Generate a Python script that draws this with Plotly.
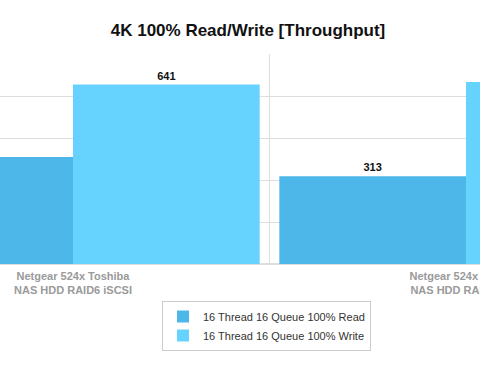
import plotly.graph_objects as go

categories = ["Netgear 524x Toshiba<br>NAS HDD RAID6 iSCSI", "Netgear 524x Toshiba<br>NAS HDD RAID6 NFS"]
read_values = [382, 313]
write_values = [641, 650]
series_names = ["16 Thread 16 Queue 100% Read", "16 Thread 16 Queue 100% Write"]

READ_COLOR = "#4db7e9"
WRITE_COLOR = "#66d3fe"

fig = go.Figure()
fig.add_trace(go.Bar(
    x=categories, y=read_values, name=series_names[0],
    marker=dict(color=READ_COLOR, line=dict(width=0)),
    text=[str(v) for v in read_values], textposition="outside",
    textfont=dict(family="Liberation Sans", size=11, color="#111", weight="bold"),
    cliponaxis=False,
))
fig.add_trace(go.Bar(
    x=categories, y=write_values, name=series_names[1],
    marker=dict(color=WRITE_COLOR, line=dict(width=0)),
    text=[str(v) for v in write_values], textposition="outside",
    textfont=dict(family="Liberation Sans", size=11, color="#111", weight="bold"),
    cliponaxis=False,
))

px_per_cat = 393.0
center0 = 73.0
fig.update_layout(
    width=480, height=370,
    margin=dict(l=0, r=0, t=54, b=106, pad=0, autoexpand=False),
    paper_bgcolor="white", plot_bgcolor="white",
    barmode="group", bargap=0.05, bargroupgap=0,
    title=dict(text="<b>4K 100% Read/Write [Throughput]</b>", x=248/480, xanchor="center",
               y=1 - 30/370, yanchor="middle",
               font=dict(family="Liberation Sans", size=17, color="#111")),
    xaxis=dict(
        type="category", automargin=False,
        range=[-center0 / px_per_cat, (480 - center0) / px_per_cat],
        tickson="boundaries", showgrid=True, gridcolor="#dddddd", gridwidth=1,
        ticks="", showline=False, zeroline=False, ticklabelstandoff=4,
        tickfont=dict(family="Liberation Sans", size=11, color="#9a9a9a", weight="bold"),
    ),
    yaxis=dict(
        range=[0, 750], dtick=150, showticklabels=False, automargin=False,
        showgrid=True, gridcolor="#dddddd", gridwidth=1,
        zeroline=True, zerolinecolor="#dddddd", showline=False, ticks="",
    ),
    legend=dict(
        x=162/480, xanchor="left", y=(264 - 301) / 210, yanchor="top",
        bordercolor="#cccccc", borderwidth=1, bgcolor="white",
        font=dict(family="Liberation Sans", size=11, color="#333"),
        itemwidth=30, tracegroupgap=0,
    ),
    showlegend=True,
)

fig.write_html("out.html")
